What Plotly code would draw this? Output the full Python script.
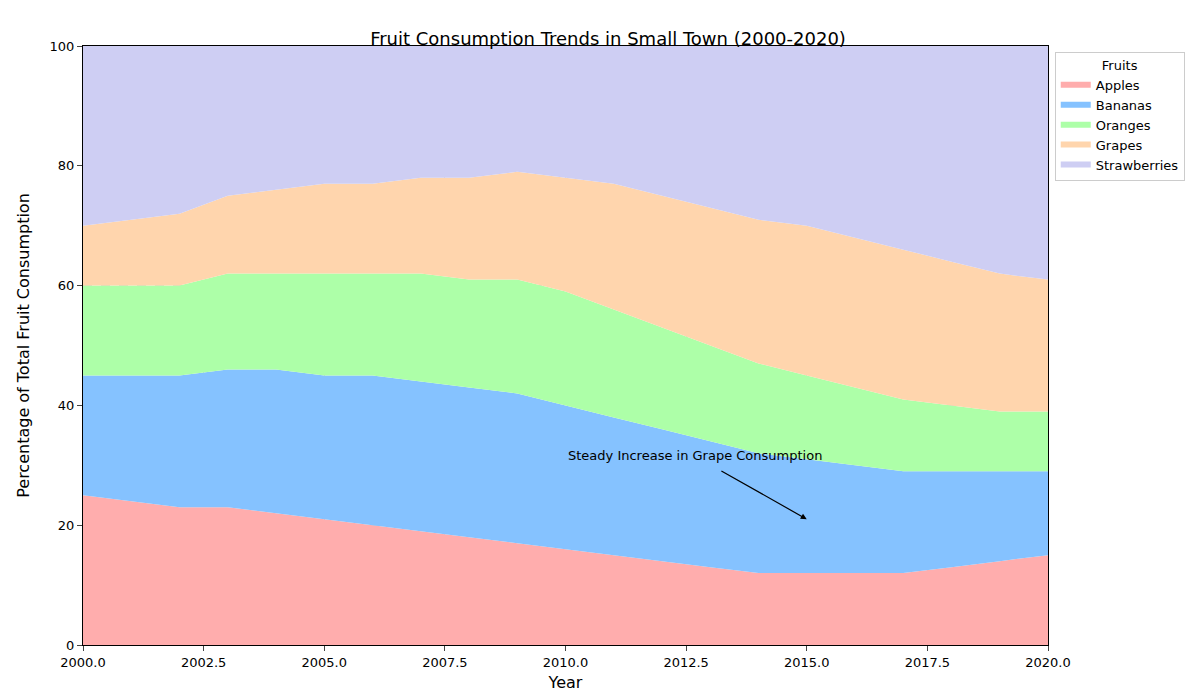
import plotly.graph_objects as go

years = list(range(2000, 2021))
apples = [25, 24, 23, 23, 22, 21, 20, 19, 18, 17, 16, 15, 14, 13, 12, 12, 12, 12, 13, 14, 15]
bananas = [20, 21, 22, 23, 24, 24, 25, 25, 25, 25, 24, 23, 22, 21, 20, 19, 18, 17, 16, 15, 14]
oranges = [15, 15, 15, 16, 16, 17, 17, 18, 18, 19, 19, 18, 17, 16, 15, 14, 13, 12, 11, 10, 10]
grapes = [10, 11, 12, 13, 14, 15, 15, 16, 17, 18, 19, 21, 22, 23, 24, 25, 25, 25, 24, 23, 22]
strawberries = [30, 29, 28, 25, 24, 23, 23, 22, 22, 21, 22, 23, 25, 27, 29, 30, 32, 34, 36, 38, 39]

series = [
    ("Apples", apples, "#ffadad"),
    ("Bananas", bananas, "#85c2ff"),
    ("Oranges", oranges, "#adffa8"),
    ("Grapes", grapes, "#ffd5ad"),
    ("Strawberries", strawberries, "#cecef3"),
]

fig = go.Figure()
for name, vals, col in series:
    fig.add_trace(go.Scatter(
        x=years, y=vals, name=name, stackgroup="one", mode="none",
        fillcolor=col,
    ))

fig.add_annotation(x=2010, y=30, text="Steady Increase in Grape Consumption",
                   showarrow=False, xanchor="left", yanchor="bottom",
                   font=dict(size=13, color="black"))
fig.add_annotation(
    x=2015, y=21, ax=2013.2, ay=29.2, axref="x", ayref="y", text="",
    showarrow=True, arrowhead=2, arrowsize=1, arrowwidth=1.2, arrowcolor="black",
)

axis = dict(showline=True, linecolor="black", mirror=True, ticks="outside",
            gridcolor="rgba(0,0,0,0.18)", griddash="dash", zeroline=False,
            layer="above traces", automargin=False,
            tickfont=dict(size=13, color="black"))
fig.update_layout(
    width=1200, height=700,
    paper_bgcolor="white", plot_bgcolor="white",
    font=dict(family="DejaVu Sans", color="black"),
    title=dict(text="Fruit Consumption Trends in Small Town (2000-2020)",
               x=0.5, xanchor="center", y=0.965, font=dict(size=18)),
    margin=dict(l=75, r=160, t=38, b=63, autoexpand=False),
    xaxis=dict(axis, range=[2000, 2020], dtick=2.5, tickformat=".1f",
               title=dict(text="Year", font=dict(size=16), standoff=8)),
    yaxis=dict(axis, range=[0, 100], dtick=20,
               title=dict(text="Percentage of Total Fruit Consumption", font=dict(size=16))),
    legend=dict(title=dict(text="Fruits", side="top center", font=dict(size=13)),
                x=1.007, y=0.99, xanchor="left", yanchor="top",
                bordercolor="#cccccc", borderwidth=1,
                font=dict(size=13), traceorder="normal"),
)

fig.write_html("out.html")
